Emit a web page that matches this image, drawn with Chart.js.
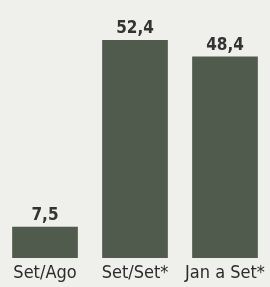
<!DOCTYPE html>
<html>
<head>
<meta charset="utf-8">
<script src="https://cdn.jsdelivr.net/npm/chart.js@4/dist/chart.umd.min.js"></script>
<style>
    html, body { margin: 0; padding: 0; background: #efefeb; }
    #wrap { width: 270px; height: 287px; position: relative; }
</style>
</head>
<body>
<div id="wrap"><canvas id="chart"></canvas></div>
<script>
const labels = ['Set/Ago', 'Set/Set*', 'Jan a Set*'];
const values = [7.5, 52.4, 48.4];
const valueText = ['7,5', '52,4', '48,4'];

const barColor = '#505b4e';

/* value labels above each bar */
const valueLabels = {
    id: 'valueLabels',
    afterDatasetsDraw(chart) {
        const ctx = chart.ctx;
        ctx.save();
        ctx.font = 'bold 17px "Liberation Sans Narrow", "DejaVu Sans Condensed", sans-serif';
        ctx.fillStyle = '#333';
        ctx.textAlign = 'center';
        ctx.textBaseline = 'alphabetic';
        chart.getDatasetMeta(0).data.forEach((bar, i) => {
            ctx.fillText(valueText[i], bar.x, bar.y - 7);
        });
        ctx.restore();
    }
};

new Chart(document.getElementById('chart'), {
    type: 'bar',
    data: {
        labels: labels,
        datasets: [{
            data: values,
            backgroundColor: barColor,
            borderWidth: 0,
            barPercentage: 0.73,
            categoryPercentage: 1,
        }],
    },
    options: {
        responsive: true, maintainAspectRatio: false,
        animation: false,
        layout: { padding: 0 },
        plugins: { legend: { display: false }, tooltip: { enabled: false } },
        scales: {
            x: {
                grid: { display: false, drawTicks: false },
                border: { display: false },
                ticks: {
                    color: '#2b2b2b', padding: 5,
                    font: { family: '"Liberation Sans Narrow", "DejaVu Sans Condensed", sans-serif', size: 18 },
                },
                afterFit(scale) { scale.height = 29; },
            },
            y: { display: false, min: 0, max: 62 },
        },
    },
    plugins: [valueLabels],
});
</script>
</body>
</html>
